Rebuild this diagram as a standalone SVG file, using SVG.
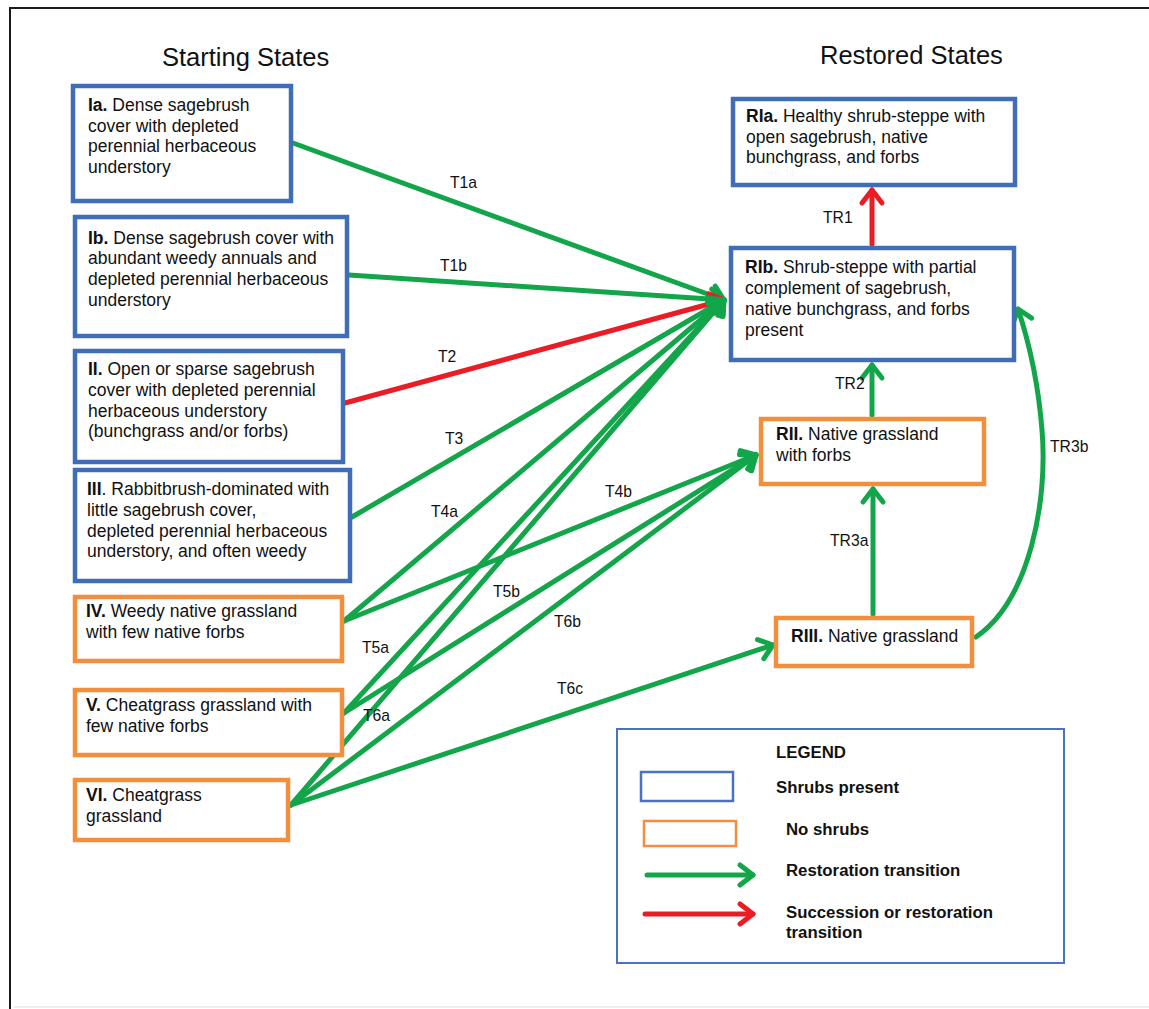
<svg xmlns="http://www.w3.org/2000/svg" width="1149" height="1009" viewBox="0 0 1149 1009">
<style>
text{font-family:"Liberation Sans",Arial,sans-serif;fill:#111}
.t{font-size:17.5px}
.title{font-size:25.5px}
.lbl{font-size:15.7px}
.leg{font-size:16.8px;font-weight:bold}
.b{font-weight:bold}
.blue{fill:#fff;stroke:#3F6DB6;stroke-width:4.5}
.orng{fill:#fff;stroke:#F28E3C;stroke-width:4.5}
.g{stroke:#12A54A;stroke-width:5;fill:none;stroke-linecap:round}
.r{stroke:#EC1C24;stroke-width:5;fill:none;stroke-linecap:round}
</style>
<defs>
<marker id="ag" markerUnits="userSpaceOnUse" viewBox="-16 -12 20 24" refX="0" refY="0" markerWidth="20" markerHeight="24" orient="auto" overflow="visible">
<path d="M-13,-10 L0,0 L-13,10" fill="none" stroke="#12A54A" stroke-width="5" stroke-linejoin="round" stroke-linecap="round"/>
</marker>
<marker id="ar" markerUnits="userSpaceOnUse" viewBox="-16 -12 20 24" refX="0" refY="0" markerWidth="20" markerHeight="24" orient="auto" overflow="visible">
<path d="M-13,-10 L0,0 L-13,10" fill="none" stroke="#EC1C24" stroke-width="5" stroke-linejoin="round" stroke-linecap="round"/>
</marker>
</defs>
<rect width="1149" height="1009" fill="#fff"/>
<path d="M10,1009 V8 H1149" fill="none" stroke="#1a1a1a" stroke-width="2"/>
<path d="M14,1007 H1149" fill="none" stroke="#ddd" stroke-width="1"/>

<text class="title" x="162" y="66">Starting States</text>
<text class="title" x="820" y="64">Restored States</text>

<g id="connectors">
<line class="g" x1="293" y1="143" x2="724" y2="300" marker-end="url(#ag)"/>
<line class="g" x1="349" y1="275" x2="724" y2="300" marker-end="url(#ag)"/>
<line class="r" x1="345" y1="403" x2="724" y2="300" marker-end="url(#ar)"/>
<line class="g" x1="352" y1="517" x2="724" y2="300" marker-end="url(#ag)"/>
<line class="g" x1="344" y1="621" x2="724" y2="300" marker-end="url(#ag)"/>
<line class="g" x1="344" y1="621" x2="756" y2="455" marker-end="url(#ag)"/>
<line class="g" x1="344" y1="713" x2="724" y2="300" marker-end="url(#ag)"/>
<line class="g" x1="344" y1="713" x2="756" y2="455" marker-end="url(#ag)"/>
<line class="g" x1="291" y1="805" x2="724" y2="300" marker-end="url(#ag)"/>
<line class="g" x1="291" y1="805" x2="756" y2="455" marker-end="url(#ag)"/>
<line class="g" x1="291" y1="805" x2="773" y2="645" marker-end="url(#ag)"/>
<line class="r" x1="872" y1="244" x2="872" y2="190" marker-end="url(#ar)"/>
<line class="g" x1="872" y1="415" x2="872" y2="365" marker-end="url(#ag)"/>
<line class="g" x1="873" y1="614" x2="873" y2="489" marker-end="url(#ag)"/>
<path class="g" d="M976,637 C1030,600 1048,500 1042,430 C1038,380 1030,345 1018,309" marker-end="url(#ag)"/>
<text class="lbl" x="450" y="188">T1a</text>
<text class="lbl" x="440" y="271">T1b</text>
<text class="lbl" x="438" y="362">T2</text>
<text class="lbl" x="445" y="444">T3</text>
<text class="lbl" x="431" y="517">T4a</text>
<text class="lbl" x="605" y="497">T4b</text>
<text class="lbl" x="493" y="597">T5b</text>
<text class="lbl" x="554" y="627">T6b</text>
<text class="lbl" x="362" y="653">T5a</text>
<text class="lbl" x="363" y="721">T6a</text>
<text class="lbl" x="557" y="694">T6c</text>
<text class="lbl" x="823" y="223">TR1</text>
<text class="lbl" x="835" y="389">TR2</text>
<text class="lbl" x="830" y="546">TR3a</text>
<text class="lbl" x="1050" y="452">TR3b</text>
</g>

<g id="Ia">
<rect class="blue" x="73" y="86" width="218" height="115"/>
<text class="t" x="88" y="111"><tspan class="b">Ia.</tspan> Dense sagebrush</text>
<text class="t" x="88" y="132">cover with depleted</text>
<text class="t" x="88" y="152">perennial herbaceous</text>
<text class="t" x="88" y="173">understory</text>
</g>
<g id="Ib">
<rect class="blue" x="75" y="217" width="272" height="119"/>
<text class="t" x="88" y="244"><tspan class="b">Ib.</tspan> Dense sagebrush cover with</text>
<text class="t" x="88" y="264">abundant weedy annuals and</text>
<text class="t" x="88" y="285">depleted perennial herbaceous</text>
<text class="t" x="88" y="306">understory</text>
</g>
<g id="II">
<rect class="blue" x="75" y="351" width="268" height="111"/>
<text class="t" x="88" y="375"><tspan class="b">II.</tspan> Open or sparse sagebrush</text>
<text class="t" x="88" y="396">cover with depleted perennial</text>
<text class="t" x="88" y="417">herbaceous understory</text>
<text class="t" x="88" y="437">(bunchgrass and/or forbs)</text>
</g>
<g id="III">
<rect class="blue" x="75" y="470" width="275" height="111"/>
<text class="t" x="87" y="495"><tspan class="b">III</tspan>. Rabbitbrush-dominated with</text>
<text class="t" x="87" y="516">little sagebrush cover,</text>
<text class="t" x="87" y="537">depleted perennial herbaceous</text>
<text class="t" x="87" y="557">understory, and often weedy</text>
</g>
<g id="IV">
<rect class="orng" x="75" y="597" width="267" height="64"/>
<text class="t" x="86" y="617"><tspan class="b">IV.</tspan> Weedy native grassland</text>
<text class="t" x="86" y="638">with few native forbs</text>
</g>
<g id="V">
<rect class="orng" x="75" y="690" width="267" height="65"/>
<text class="t" x="86" y="711"><tspan class="b">V.</tspan> Cheatgrass grassland with</text>
<text class="t" x="86" y="732">few native forbs</text>
</g>
<g id="VI">
<rect class="orng" x="75" y="780" width="213" height="60"/>
<text class="t" x="86" y="801"><tspan class="b">VI.</tspan> Cheatgrass</text>
<text class="t" x="86" y="822">grassland</text>
</g>
<g id="RIa">
<rect class="blue" x="733" y="99" width="282" height="86"/>
<text class="t" x="746" y="122"><tspan class="b">RIa.</tspan> Healthy shrub-steppe with</text>
<text class="t" x="746" y="143">open sagebrush, native</text>
<text class="t" x="746" y="163">bunchgrass, and forbs</text>
</g>
<g id="RIb">
<rect class="blue" x="731" y="248" width="283" height="112"/>
<text class="t" x="745" y="273"><tspan class="b">RIb.</tspan> Shrub-steppe with partial</text>
<text class="t" x="745" y="294">complement of sagebrush,</text>
<text class="t" x="745" y="315">native bunchgrass, and forbs</text>
<text class="t" x="745" y="336">present</text>
</g>
<g id="RII">
<rect class="orng" x="761" y="419" width="223" height="65"/>
<text class="t" x="776" y="440"><tspan class="b">RII.</tspan> Native grassland</text>
<text class="t" x="776" y="461">with forbs</text>
</g>
<g id="RIII">
<rect class="orng" x="776" y="618" width="196" height="48"/>
<text class="t" x="791" y="642"><tspan class="b">RIII.</tspan> Native grassland</text>
</g>

<g id="legend">
<rect x="617" y="729" width="447" height="234" fill="#fff" stroke="#4A72C0" stroke-width="2"/>
<text class="leg" x="776" y="758">LEGEND</text>
<rect x="641" y="772" width="92" height="29" fill="#fff" stroke="#4A72C0" stroke-width="2.5"/>
<text class="leg" x="776" y="793">Shrubs present</text>
<rect x="644" y="821" width="92" height="25" fill="#fff" stroke="#F28E3C" stroke-width="2.5"/>
<text class="leg" x="786" y="835">No shrubs</text>
<line class="g" x1="647" y1="875" x2="753" y2="875" marker-end="url(#ag)"/>
<text class="leg" x="786" y="876">Restoration transition</text>
<line class="r" x1="645" y1="914" x2="753" y2="914" marker-end="url(#ar)"/>
<text class="leg" x="786" y="918">Succession or restoration</text>
<text class="leg" x="786" y="938">transition</text>
</g>
</svg>
